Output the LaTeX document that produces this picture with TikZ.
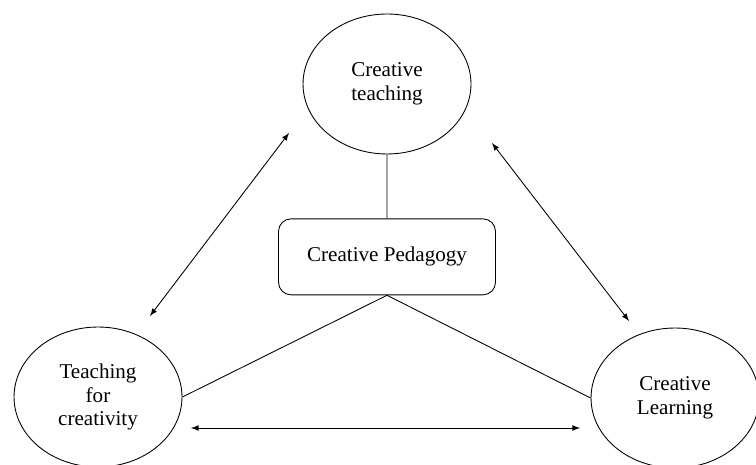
\documentclass[tikz,border=0pt]{standalone}
\usepackage{fontspec}
\setmainfont{Liberation Serif}
\usetikzlibrary{positioning,shapes,arrows}
\tikzset{idea node/.style={ellipse,draw,line width=0.5pt,minimum width=3.36cm,
minimum height=2.8cm,align=center,inner sep=1pt,font=\fontsize{12}{13.5}\selectfont},
core node/.style={rectangle,rounded corners=0.25cm,draw,line width=0.5pt,
minimum width=4.34cm,minimum height=1.52cm,font=\fontsize{12}{13.5}\selectfont}}

\begin{document}
\begin{tikzpicture}[x=0.02cm,y=-0.02cm,>=latex]
    \useasboundingbox (0,0) rectangle (756,465);
    \node[idea node] (ct) at (387,84) {Creative\\teaching};
    \node[idea node] (tc) at (98,397) {Teaching\\for\\creativity};
    \node[idea node] (cl) at (675,398) {Creative\\Learning};
    \node[core node] (cp) [below=1.28cm of ct] {Creative Pedagogy};

    \path[draw,line width=0.5pt]
    (ct.south)--(cp.north)
    (tc.east)--(cp.south)--(cl.west);

    % free ends of the arrows
    \coordinate (a1) at (150,316);
    \coordinate (a2) at (289,133);
    \coordinate (b1) at (492,143);
    \coordinate (b2) at (629,321);
    \coordinate (c1) at (191,428);
    \coordinate (c2) at (580,428);

    \draw[<->,line width=0.5pt] (a1)--(a2);
    \draw[<->,line width=0.5pt] (b1)--(b2);
    \draw[<->,line width=0.5pt] (c1)--(c2);
\end{tikzpicture}
\end{document}
